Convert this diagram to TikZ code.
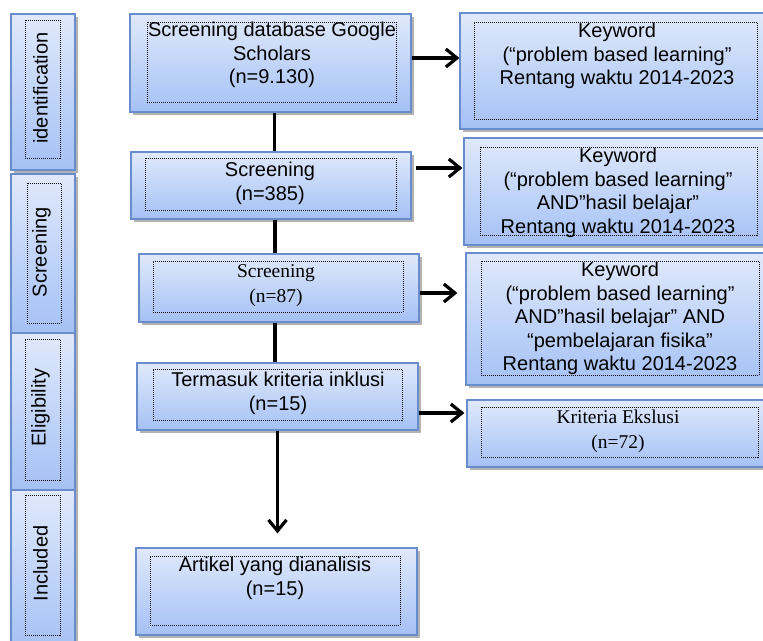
\documentclass[tikz,border=0pt]{standalone}
\usepackage{fontspec}
\setmainfont{Liberation Sans}
\newfontfamily\timesfont{Liberation Serif}
\usetikzlibrary{positioning, arrows.meta, shadows}

\definecolor{boxtop}{RGB}{224,233,251}
\definecolor{boxbottom}{RGB}{164,193,245}
\definecolor{boxedge}{RGB}{104,140,204}

\tikzset{
	stagebox/.style={rectangle, draw=boxedge, line width=1.2pt, top color=boxtop, bottom color=boxbottom, inner sep=0pt,
		drop shadow={shadow xshift=2.5pt, shadow yshift=-2.5pt, fill=black, opacity=0.3}},
	dotbox/.style={rectangle, draw=black, line width=1pt, densely dotted, inner sep=0pt},
	boxtext/.style={font=\fontsize{20}{23.5}\selectfont, align=center, anchor=north, inner sep=0pt},
	seriftext/.style={font=\timesfont\fontsize{19.5}{25}\selectfont, align=center, anchor=north, inner sep=0pt},
	sidetext/.style={font=\fontsize{20}{23.5}\selectfont, rotate=90, inner sep=0pt},
	flow/.style={line width=3.2pt, black},
	flowarrow/.style={-{Straight Barb[length=11pt, width=18pt]}}
}

\begin{document}
\begin{tikzpicture}[x=1pt, y=1pt]
			\useasboundingbox (0,0) rectangle (763,-640);

			% stages on the left
			\node[stagebox, minimum width=64pt, minimum height=156pt] (s1) at (43,-92) {};
			\node[stagebox, minimum width=64pt, minimum height=159pt] (s2) at (43,-253.5) {};
			\node[stagebox, minimum width=64pt, minimum height=157pt] (s3) at (43,-411.5) {};
			\node[stagebox, minimum width=64pt, minimum height=160pt] (s4) at (43,-570) {};
			\node[dotbox, minimum width=35pt, minimum height=138pt] (s1in) at (42.5,-89) {};
			\node[dotbox, minimum width=34pt, minimum height=140pt] (s2in) at (44,-253) {};
			\node[dotbox, minimum width=35pt, minimum height=141pt] (s3in) at (42.5,-409.5) {};
			\node[dotbox, minimum width=35pt, minimum height=140pt] (s4in) at (42.5,-565) {};
			\node[sidetext] (s1txt) at (40.5,-88) {identification};
			\node[sidetext] (s2txt) at (41.5,-252) {Screening};
			\node[sidetext] (s3txt) at (40.5,-407.5) {Eligibility};
			\node[sidetext] (s4txt) at (40.5,-563.5) {Included};

			% main column
			\node[stagebox, minimum width=281pt, minimum height=98pt] (b1) at (270.5,-63) {};
			\node[stagebox, minimum width=280pt, minimum height=67pt] (b2) at (271,-185.5) {};
			\node[stagebox, minimum width=280pt, minimum height=68pt] (b3) at (279,-288) {};
			\node[stagebox, minimum width=281pt, minimum height=67pt] (b4) at (277.5,-396.5) {};
			\node[stagebox, minimum width=281pt, minimum height=87pt] (b5) at (276.5,-591.5) {};
			\node[dotbox, minimum width=249pt, minimum height=80pt] (b1in) at (271.5,-62) {};
			\node[dotbox, minimum width=251pt, minimum height=52pt] (b2in) at (270.5,-184) {};
			\node[dotbox, minimum width=250pt, minimum height=51pt] (b3in) at (278,-286.5) {};
			\node[dotbox, minimum width=249pt, minimum height=51pt] (b4in) at (277.5,-394.5) {};
			\node[dotbox, minimum width=250pt, minimum height=69pt] (b5in) at (275,-590.5) {};
			\node[boxtext] (b1txt) at (272,-22) {Screening database Google\\Scholars\\(n=9.130)};
			\node[boxtext] (b2txt) at (270,-162) {Screening\\(n=385)};
			\node[seriftext] (b3txt) at (276,-264) {Screening\\(n=87)};
			\node[boxtext] (b4txt) at (278,-372) {Termasuk kriteria inklusi\\(n=15)};
			\node[boxtext] (b5txt) at (275,-557) {Artikel yang dianalisis\\(n=15)};

			% keyword boxes on the right
			\node[stagebox, minimum width=312pt, minimum height=116pt] (r1) at (616,-71) {};
			\node[stagebox, minimum width=308pt, minimum height=107pt] (r2) at (618,-191.5) {};
			\node[stagebox, minimum width=306pt, minimum height=132pt] (r3) at (619,-319) {};
			\node[stagebox, minimum width=305pt, minimum height=67pt] (r4) at (619.5,-433.5) {};
			\node[dotbox, minimum width=283pt, minimum height=97pt] (r1in) at (615.5,-70.5) {};
			\node[dotbox, minimum width=277pt, minimum height=88pt] (r2in) at (618.5,-191) {};
			\node[dotbox, minimum width=278pt, minimum height=114pt] (r3in) at (620,-318) {};
			\node[dotbox, minimum width=277pt, minimum height=50pt] (r4in) at (619.5,-432) {};
			\node[boxtext] (r1txt) at (617,-23) {Keyword\\(“problem based learning”\\Rentang waktu 2014-2023};
			\node[boxtext] (r2txt) at (618,-148) {Keyword\\(“problem based learning”\\AND”hasil belajar”\\Rentang waktu 2014-2023};
			\node[boxtext] (r3txt) at (620,-262) {Keyword\\(“problem based learning”\\AND”hasil belajar” AND\\“pembelajaran fisika”\\Rentang waktu 2014-2023};
			\node[seriftext] (r4txt) at (618,-410) {Kriteria Ekslusi\\(n=72)};

			\draw[flow] ([xshift=4pt]b1.south) edge ([xshift=4pt]b1.south |- b2.north)
			([xshift=4pt]b2.south) edge ([xshift=4pt]b2.south |- b3.north)
			([xshift=-4pt]b3.south) edge ([xshift=-4pt]b3.south |- b4.north)
			(b4.south) edge[flowarrow, shorten >=14pt] (b4.south |- b5.north)
			([yshift=5pt]b1.east) edge[flowarrow] ([yshift=5pt]b1.east -| r1.west)
			([yshift=17.5pt]b2.east) edge[flowarrow, shorten <=4pt, shorten >=1pt] ([yshift=17.5pt]b2.east -| r2.west)
			([yshift=-5pt]b3.east) edge[flowarrow, shorten >=8pt] ([yshift=-5pt]b3.east -| r3.west)
			([yshift=-16.5pt]b4.east) edge[flowarrow, shorten >=2pt] ([yshift=-16.5pt]b4.east -| r4.west);

		\end{tikzpicture}
\end{document}
